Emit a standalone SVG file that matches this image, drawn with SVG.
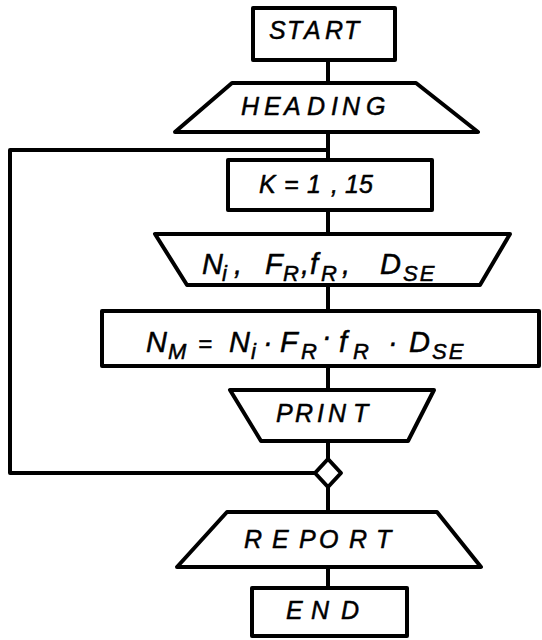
<svg xmlns="http://www.w3.org/2000/svg" width="542" height="640" viewBox="0 0 542 640">
  <style>
    .shape { fill: #fff; stroke: #000; stroke-width: 4; stroke-linejoin: round; }
    .wire { fill: none; stroke: #000; stroke-width: 4; stroke-linejoin: round; }
    .lbl { font-family: "Liberation Sans", "DejaVu Sans", sans-serif; font-style: italic; font-size: 25px; fill: #000; stroke: #000; stroke-width: 0.5; stroke-linejoin: round; }
    .big { font-size: 29px; }
    .sub { font-size: 22px; }
  </style>
  <rect width="542" height="640" fill="#fff"/>

  <!-- connectors: main spine and the loop return line -->
  <g id="connectors">
    <path class="wire" d="M328,60 V588"/>
    <path class="wire" d="M328,150 H10 V473 H315"/>
  </g>

  <g id="start">
    <rect class="shape" x="253" y="8" width="142" height="52"/>
    <text class="lbl" x="269 287 304 325 344" y="39">START</text>
  </g>

  <g id="heading">
    <polygon class="shape" points="232,83 416,83 478,132 175,132"/>
    <text class="lbl" x="241 264 284 307 331 342 366" y="115">HEADING</text>
  </g>

  <g id="loop">
    <rect class="shape" x="228" y="160" width="204" height="50"/>
    <text class="lbl" y="193"><tspan x="259">K</tspan><tspan x="284">=</tspan><tspan x="307">1</tspan><tspan x="331">,</tspan><tspan x="345">15</tspan></text>
  </g>

  <g id="input">
    <polygon class="shape" points="155,234 510,234 480,285 187,285"/>
    <text class="lbl big" y="274"><tspan x="202">N</tspan><tspan x="234">,</tspan><tspan x="265">F</tspan><tspan x="301">,</tspan><tspan x="310">f</tspan><tspan x="342">,</tspan><tspan x="380">D</tspan></text>
    <text class="lbl sub" y="281"><tspan x="222">i</tspan><tspan x="283">R</tspan><tspan x="321">R</tspan><tspan x="403" letter-spacing="2">SE</tspan></text>
  </g>

  <g id="compute">
    <rect class="shape" x="102" y="311" width="437" height="55"/>
    <text class="lbl big" y="352"><tspan x="146">N</tspan><tspan x="198" font-size="24">=</tspan><tspan x="229">N</tspan><tspan x="263">·</tspan><tspan x="280">F</tspan><tspan x="322" dy="-6">·</tspan><tspan x="339" dy="6">f</tspan><tspan x="388">·</tspan><tspan x="409">D</tspan></text>
    <text class="lbl sub" y="359"><tspan x="168">M</tspan><tspan x="251">i</tspan><tspan x="301">R</tspan><tspan x="353">R</tspan><tspan x="432" letter-spacing="2">SE</tspan></text>
  </g>

  <g id="print">
    <polygon class="shape" points="230,390 434,390 408,441 261,441"/>
    <text class="lbl" x="276 295 317 328 353" y="422">PRINT</text>
  </g>

  <g id="junction">
    <polygon class="shape" points="328,459 341,473 328,487 315,473"/>
  </g>

  <g id="report">
    <polygon class="shape" points="227,512 437,512 481,567 177,567"/>
    <text class="lbl" x="244 272 299 319 349 376" y="548">REPORT</text>
  </g>

  <g id="end">
    <rect class="shape" x="252" y="588" width="155" height="48"/>
    <text class="lbl" x="286 311 341" y="619">END</text>
  </g>
</svg>
